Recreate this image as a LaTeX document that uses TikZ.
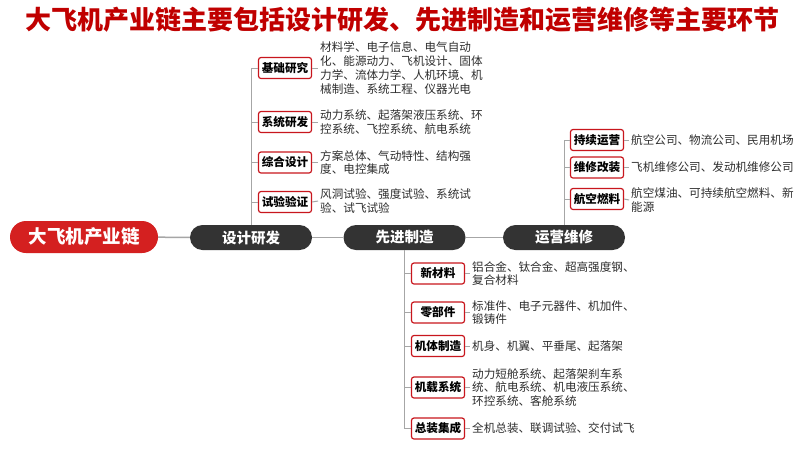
\documentclass[tikz,border=0pt]{standalone}
\usepackage{fontspec}
\setmainfont{Noto Sans CJK SC}
\newfontfamily\cjk{Noto Sans CJK SC}
\begin{document}
\begin{tikzpicture}[x=1pt,y=-1pt,
  pill/.style={rounded corners=12.5pt,minimum height=25pt,text=white,font=\cjk\bfseries\fontsize{14.5}{16}\selectfont,inner sep=0pt},
  darkpill/.style={pill,fill=pilldark,minimum width=122pt},
  redpill/.style={pill,fill=pillred,minimum width=148pt,minimum height=32pt,rounded corners=16pt,font=\cjk\bfseries\fontsize{18.5}{20}\selectfont},
  catbox/.style={draw=boxred,line width=1.2pt,fill=white,rounded corners=2.5pt,minimum width=53pt,minimum height=21pt,inner sep=0pt,font=\cjk\bfseries\fontsize{11.6}{13}\selectfont,text=black},
  desc/.style={anchor=west,align=left,inner sep=2pt,text=textgray,font=\cjk\fontsize{11.6}{13.8}\selectfont},
  mainline/.style={draw=linegray,line width=1.5pt},
  branch/.style={draw=linegray,line width=1pt}
]
\definecolor{pilldark}{HTML}{333333}
\definecolor{pillred}{HTML}{D42020}
\definecolor{boxred}{HTML}{C8161D}
\definecolor{titlered}{HTML}{C00000}
\definecolor{linegray}{HTML}{A6A6A6}
\definecolor{textgray}{HTML}{2E2E2E}
\useasboundingbox[fill=white] (0,0) rectangle (800,448);

\node[text=titlered,font=\cjk\bfseries\fontsize{26}{28}\selectfont,inner sep=0pt] (title) at (402,20) {大飞机产业链主要包括设计研发、先进制造和运营维修等主要环节};

% main row
\node[redpill] (root) at (84,237) {大飞机产业链};
\node[darkpill] (design) at (251,237.5) {设计研发};
\node[darkpill] (mfg) at (404.5,237.5) {先进制造};
\node[darkpill] (ops) at (564,237.5) {运营维修};
\draw[mainline] (root) -- (design);
\draw[mainline] (design) -- (mfg);
\draw[mainline] (mfg) -- (ops);

% design branch
\node[catbox] (d1) at (285,68) {基础研究};
\node[catbox] (d2) at (285,122) {系统研发};
\node[catbox] (d3) at (285,162.5) {综合设计};
\node[catbox] (d4) at (285,202) {试验验证};
\node[desc] (td1) at (318,68) {材料学、电子信息、电气自动\\化、能源动力、飞机设计、固体\\力学、流体力学、人机环境、机\\械制造、系统工程、仪器光电};
\node[desc] (td2) at (318,122) {动力系统、起落架液压系统、环\\控系统、飞控系统、航电系统};
\node[desc] (td3) at (318,162.5) {方案总体、气动特性、结构强\\度、电控集成};
\node[desc] (td4) at (318,201) {风洞试验、强度试验、系统试\\验、试飞试验};
\foreach \i in {1,2,3,4} {
  \draw[branch] (design.north) |- (d\i.west);
  \draw[branch] (d\i.east) -- (td\i.west);
}

% operations branch
\node[catbox] (o1) at (597,140) {持续运营};
\node[catbox] (o2) at (597,167.5) {维修改装};
\node[catbox] (o3) at (597,199) {航空燃料};
\node[desc] (to1) at (629,140) {航空公司、物流公司、民用机场};
\node[desc] (to2) at (629,167.5) {飞机维修公司、发动机维修公司};
\node[desc] (to3) at (629,200) {航空煤油、可持续航空燃料、新\\能源};
\foreach \i in {1,2,3} {
  \draw[branch] (ops.north) |- (o\i.west);
  \draw[branch] (o\i.east) -- (to\i.west);
}

% manufacturing branch
\node[catbox] (m1) at (438,273.5) {新材料};
\node[catbox] (m2) at (438,312.5) {零部件};
\node[catbox] (m3) at (438,346) {机体制造};
\node[catbox] (m4) at (438,387.5) {机载系统};
\node[catbox] (m5) at (438,428.5) {总装集成};
\node[desc] (tm1) at (470,273.5) {铝合金、钛合金、超高强度钢、\\复合材料};
\node[desc] (tm2) at (470,312.5) {标准件、电子元器件、机加件、\\锻铸件};
\node[desc] (tm3) at (470,346) {机身、机翼、平垂尾、起落架};
\node[desc] (tm4) at (470,387.5) {动力短舱系统、起落架刹车系\\统、航电系统、机电液压系统、\\环控系统、客舱系统};
\node[desc] (tm5) at (470,428.5) {全机总装、联调试验、交付试飞};
\foreach \i in {1,2,3,4,5} {
  \draw[branch] (mfg.south) |- (m\i.west);
  \draw[branch] (m\i.east) -- (tm\i.west);
}
\end{tikzpicture}
\end{document}
